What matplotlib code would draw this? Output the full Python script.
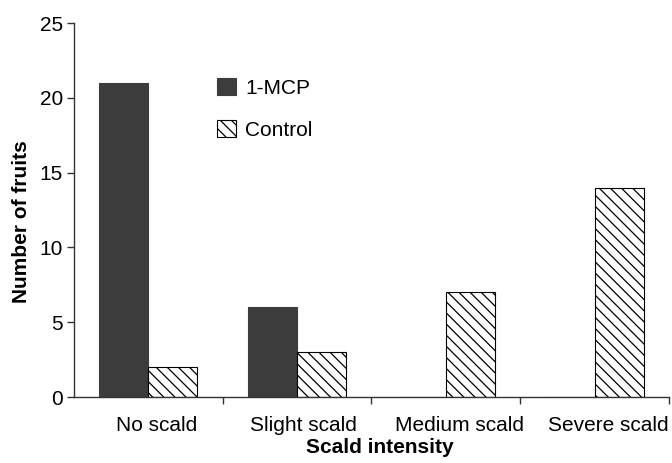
import matplotlib
matplotlib.use("Agg")
import matplotlib.pyplot as plt
import matplotlib.transforms as mtransforms
import numpy as np

categories = ["No scald", "Slight scald", "Medium scald", "Severe scald"]
mcp = [21, 6, 0, 0]
control = [2, 3, 7, 14]
yticks = [0, 5, 10, 15, 20, 25]

plt.rcParams['font.family'] = ['Liberation Sans', 'DejaVu Sans']
plt.rcParams['hatch.linewidth'] = 0.9

fig = plt.figure(figsize=(6.72, 4.63), dpi=100)
ax = fig.add_axes([0.110, 0.1425, 0.8855, 0.8075])

x = np.arange(len(categories))
w = 0.33
ax.bar(x - w / 2, mcp, width=w, color='#3c3c3c', edgecolor='#3c3c3c', linewidth=0.8, label='1-MCP')
ax.bar(x + w / 2, control, width=w, color='white', edgecolor='black', hatch='\\\\\\', linewidth=0.8, label='Control')

ax.set_xlim(-0.5, 3.5)
ax.set_ylim(0, 25)
ax.set_yticks(yticks)
ax.set_xticks(x)
ax.set_xticklabels(categories, fontsize=15)
ax.set_xticks([0.5, 1.5, 2.5, 3.5], minor=True)
ax.tick_params(axis='x', which='major', length=0, pad=14)
ax.tick_params(axis='x', which='minor', length=5, width=1, direction='out', color='#333333')
ax.tick_params(axis='y', length=5, width=1, direction='out', labelsize=15, color='#333333', pad=3)
for s in ['top', 'right']:
    ax.spines[s].set_visible(False)
for s in ['left', 'bottom']:
    ax.spines[s].set_color('#333333')
    ax.spines[s].set_linewidth(1)

# small horizontal offsets of the category labels (layout, in pixels)
label_shift_px = [8, 6, 14, 14]
for lab, dx in zip(ax.get_xticklabels(), label_shift_px):
    lab.set_transform(lab.get_transform() + mtransforms.ScaledTranslation(dx / 100, 0, fig.dpi_scale_trans))

ax.set_xlabel('Scald intensity', fontsize=15, fontweight='bold', labelpad=2)
ax.set_ylabel('Number of fruits', fontsize=15, fontweight='bold', labelpad=6)
ax.xaxis.label.set_x(0.514)
ax.yaxis.label.set_y(0.47)

leg = ax.legend(loc='upper left', bbox_to_anchor=(0.323, 1 - 78 / 463), bbox_transform=fig.transFigure,
                frameon=False, fontsize=15, borderpad=0, borderaxespad=0,
                handlelength=0.9, handleheight=0.9, handletextpad=0.45, labelspacing=1.05)

fig.savefig('out.png', dpi=100)
